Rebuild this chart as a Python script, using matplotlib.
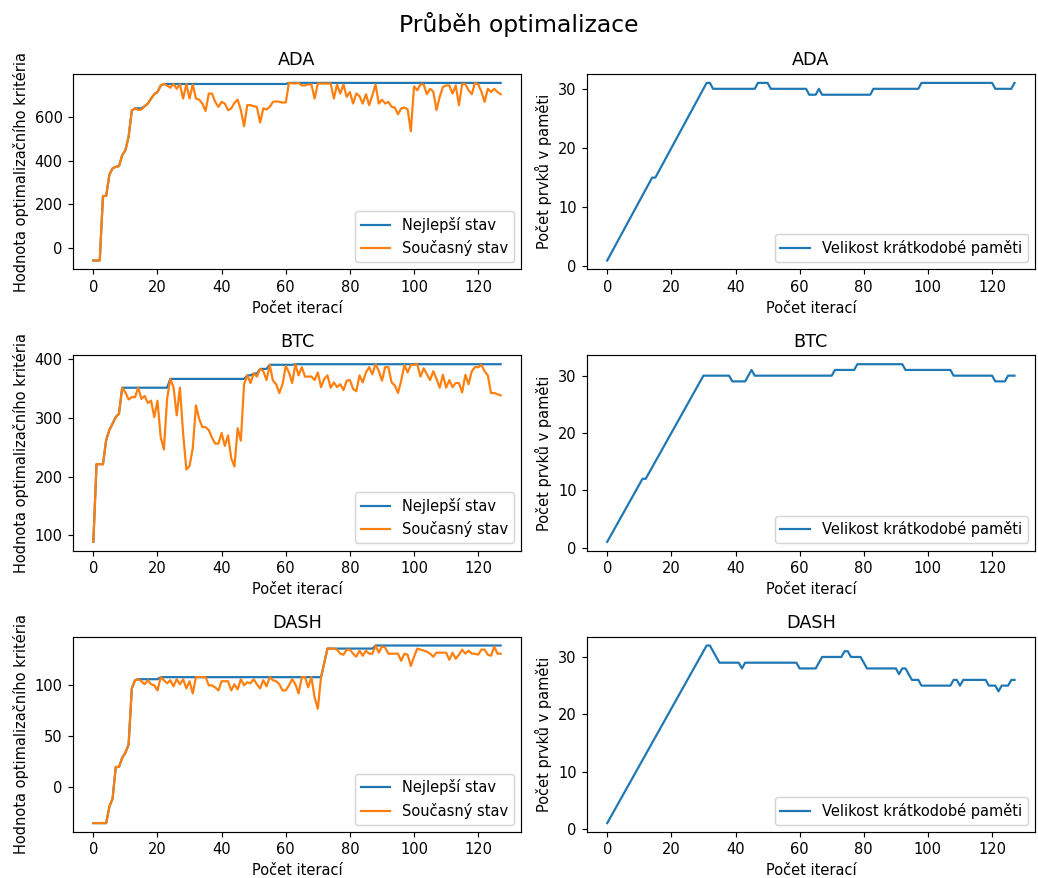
import numpy as np
import matplotlib
matplotlib.use('Agg')
import matplotlib.pyplot as plt

coins = ['ADA', 'BTC', 'DASH']

# ADA
ada_current = [-58, -58, -58, 238, 238, 335, 365, 372, 375, 425, 448, 510, 630, 640, 633, 635,
               650, 662, 685, 705, 715, 745, 752, 745, 735, 752, 730, 750, 685, 752, 685, 750,
               685, 680, 662, 628, 708, 708, 670, 647, 670, 662, 632, 640, 665, 680, 632, 558,
               655, 655, 650, 647, 575, 640, 635, 647, 670, 672, 670, 667, 667, 757, 755, 754,
               757, 745, 745, 750, 750, 685, 754, 754, 754, 754, 754, 685, 750, 708, 750, 693,
               715, 662, 708, 696, 662, 705, 655, 700, 750, 662, 680, 662, 670, 647, 644, 613,
               640, 644, 635, 535, 741, 723, 750, 750, 705, 730, 717, 632, 693, 738, 745, 745,
               708, 745, 655, 752, 752, 723, 705, 757, 750, 717, 670, 730, 715, 730, 715, 705]
ada_best = [-58, -58, -58, 238, 238, 335, 365, 372, 375, 425, 448, 510, 630, 640, 640, 640,
            650, 662, 685, 705, 715, 745, 752, 752, 752, 752, 752, 752, 752, 752, 752, 752,
            752, 752, 752, 752, 752, 752, 752, 752, 752, 752, 752, 752, 752, 752, 752, 752,
            752, 752, 752, 752, 752, 752, 752, 752, 752, 752, 752, 752, 752, 757, 757, 757,
            757, 757, 757, 757, 757, 757, 757, 757, 757, 757, 757, 757, 757, 757, 757, 757,
            757, 757, 757, 757, 757, 757, 757, 757, 757, 757, 757, 757, 757, 757, 757, 757,
            757, 757, 757, 757, 757, 757, 757, 757, 757, 757, 757, 757, 757, 757, 757, 757,
            757, 757, 757, 757, 757, 757, 757, 757, 757, 757, 757, 757, 757, 757, 757, 757]
ada_memory = [1, 2, 3, 4, 5, 6, 7, 8, 9, 10, 11, 12, 13, 14, 15, 15,
              16, 17, 18, 19, 20, 21, 22, 23, 24, 25, 26, 27, 28, 29, 30, 31,
              31, 30, 30, 30, 30, 30, 30, 30, 30, 30, 30, 30, 30, 30, 30, 31,
              31, 31, 31, 30, 30, 30, 30, 30, 30, 30, 30, 30, 30, 30, 30, 29,
              29, 29, 30, 29, 29, 29, 29, 29, 29, 29, 29, 29, 29, 29, 29, 29,
              29, 29, 29, 30, 30, 30, 30, 30, 30, 30, 30, 30, 30, 30, 30, 30,
              30, 30, 31, 31, 31, 31, 31, 31, 31, 31, 31, 31, 31, 31, 31, 31,
              31, 31, 31, 31, 31, 31, 31, 31, 31, 30, 30, 30, 30, 30, 30, 31]

# BTC
btc_current = [89, 221, 221, 221, 262, 279, 290, 301, 307, 351, 343, 331, 335, 335, 351, 332,
               337, 325, 329, 301, 329, 267, 246, 332, 366, 352, 304, 351, 273, 212, 218, 248,
               321, 298, 284, 284, 279, 266, 256, 256, 274, 252, 270, 231, 217, 282, 261, 357,
               372, 359, 375, 370, 383, 379, 364, 390, 363, 357, 342, 357, 388, 377, 359, 391,
               372, 386, 370, 370, 370, 364, 377, 352, 366, 372, 351, 360, 352, 357, 347, 363,
               364, 349, 345, 372, 360, 377, 386, 374, 391, 380, 363, 386, 386, 360, 355, 342,
               363, 390, 377, 390, 390, 391, 370, 384, 374, 364, 379, 366, 351, 373, 351, 364,
               352, 359, 359, 343, 373, 357, 379, 386, 386, 390, 379, 372, 342, 342, 340, 338]
btc_best = [89, 221, 221, 221, 262, 279, 290, 301, 307, 351, 351, 351, 351, 351, 351, 351,
            351, 351, 351, 351, 351, 351, 351, 351, 366, 366, 366, 366, 366, 366, 366, 366,
            366, 366, 366, 366, 366, 366, 366, 366, 366, 366, 366, 366, 366, 366, 366, 366,
            372, 372, 375, 375, 383, 383, 383, 390, 390, 390, 390, 390, 390, 390, 390, 391,
            391, 391, 391, 391, 391, 391, 391, 391, 391, 391, 391, 391, 391, 391, 391, 391,
            391, 391, 391, 391, 391, 391, 391, 391, 391, 391, 391, 391, 391, 391, 391, 391,
            391, 391, 391, 391, 391, 391, 391, 391, 391, 391, 391, 391, 391, 391, 391, 391,
            391, 391, 391, 391, 391, 391, 391, 391, 391, 391, 391, 391, 391, 391, 391, 391]
btc_memory = [1, 2, 3, 4, 5, 6, 7, 8, 9, 10, 11, 12, 12, 13, 14, 15,
              16, 17, 18, 19, 20, 21, 22, 23, 24, 25, 26, 27, 28, 29, 30, 30,
              30, 30, 30, 30, 30, 30, 30, 29, 29, 29, 29, 29, 30, 31, 30, 30,
              30, 30, 30, 30, 30, 30, 30, 30, 30, 30, 30, 30, 30, 30, 30, 30,
              30, 30, 30, 30, 30, 30, 30, 31, 31, 31, 31, 31, 31, 31, 32, 32,
              32, 32, 32, 32, 32, 32, 32, 32, 32, 32, 32, 32, 32, 31, 31, 31,
              31, 31, 31, 31, 31, 31, 31, 31, 31, 31, 31, 31, 30, 30, 30, 30,
              30, 30, 30, 30, 30, 30, 30, 30, 30, 29, 29, 29, 29, 30, 30, 30]

# DASH
dash_current = [-35, -35, -35, -35, -35, -19, -11, 20, 20, 29, 34, 42, 97, 105, 106, 104,
                101, 105, 101, 100, 95, 108, 105, 102, 105, 99, 106, 101, 106, 97, 104, 92,
                108, 108, 108, 108, 100, 100, 98, 95, 104, 104, 104, 95, 101, 96, 106, 100,
                103, 102, 106, 101, 97, 105, 99, 108, 105, 104, 101, 95, 95, 100, 106, 101,
                92, 108, 108, 98, 108, 88, 77, 108, 122, 136, 136, 136, 135, 131, 130, 135,
                135, 131, 128, 134, 129, 134, 131, 131, 139, 132, 138, 137, 131, 131, 131, 131,
                124, 131, 130, 119, 128, 136, 135, 134, 133, 131, 128, 132, 132, 132, 132, 125,
                132, 126, 130, 135, 131, 134, 131, 131, 130, 135, 135, 130, 129, 138, 131, 131]
dash_best = [-35, -35, -35, -35, -35, -19, -11, 20, 20, 29, 34, 42, 97, 105, 106, 106,
             106, 106, 106, 106, 106, 108, 108, 108, 108, 108, 108, 108, 108, 108, 108, 108,
             108, 108, 108, 108, 108, 108, 108, 108, 108, 108, 108, 108, 108, 108, 108, 108,
             108, 108, 108, 108, 108, 108, 108, 108, 108, 108, 108, 108, 108, 108, 108, 108,
             108, 108, 108, 108, 108, 108, 108, 108, 122, 136, 136, 136, 136, 136, 136, 136,
             136, 136, 136, 136, 136, 136, 136, 136, 139, 139, 139, 139, 139, 139, 139, 139,
             139, 139, 139, 139, 139, 139, 139, 139, 139, 139, 139, 139, 139, 139, 139, 139,
             139, 139, 139, 139, 139, 139, 139, 139, 139, 139, 139, 139, 139, 139, 139, 139]
dash_memory = [1, 2, 3, 4, 5, 6, 7, 8, 9, 10, 11, 12, 13, 14, 15, 16,
               17, 18, 19, 20, 21, 22, 23, 24, 25, 26, 27, 28, 29, 30, 31, 32,
               32, 31, 30, 29, 29, 29, 29, 29, 29, 29, 28, 29, 29, 29, 29, 29,
               29, 29, 29, 29, 29, 29, 29, 29, 29, 29, 29, 29, 28, 28, 28, 28,
               28, 28, 29, 30, 30, 30, 30, 30, 30, 30, 31, 31, 30, 30, 30, 30,
               29, 28, 28, 28, 28, 28, 28, 28, 28, 28, 28, 27, 28, 28, 27, 26,
               26, 26, 25, 25, 25, 25, 25, 25, 25, 25, 25, 25, 26, 26, 25, 26,
               26, 26, 26, 26, 26, 26, 26, 25, 25, 25, 24, 25, 25, 25, 26, 26]

best = [ada_best, btc_best, dash_best]
current = [ada_current, btc_current, dash_current]
memory = [ada_memory, btc_memory, dash_memory]

DPI = 105.7
fig = plt.figure(figsize=(1038 / DPI, 878 / DPI), dpi=DPI)
fig.suptitle('Průběh optimalizace', fontsize=16, y=0.972, va='center')

for i in range(len(coins)):
    it = np.arange(len(best[i]))

    ax1 = fig.add_subplot(3, 2, 2 * i + 1)
    ax1.plot(it, best[i], label='Nejlepší stav')
    ax1.plot(it, current[i], label='Současný stav')
    ax1.set_title(coins[i])
    ax1.set_xlabel('Počet iterací')
    ax1.set_ylabel('Hodnota optimalizačního kritéria')
    ax1.legend(loc='lower right')

    ax2 = fig.add_subplot(3, 2, 2 * i + 2)
    ax2.plot(np.arange(len(memory[i])), memory[i], label='Velikost krátkodobé paměti')
    ax2.set_title(coins[i])
    ax2.set_xlabel('Počet iterací')
    ax2.set_ylabel('Počet prvků v paměti')
    ax2.legend(loc='lower right')

fig.subplots_adjust(left=0.0703, right=0.997, top=0.9157, bottom=0.0524,
                    wspace=0.147, hspace=0.44)
fig.savefig('out.png', dpi=DPI)
